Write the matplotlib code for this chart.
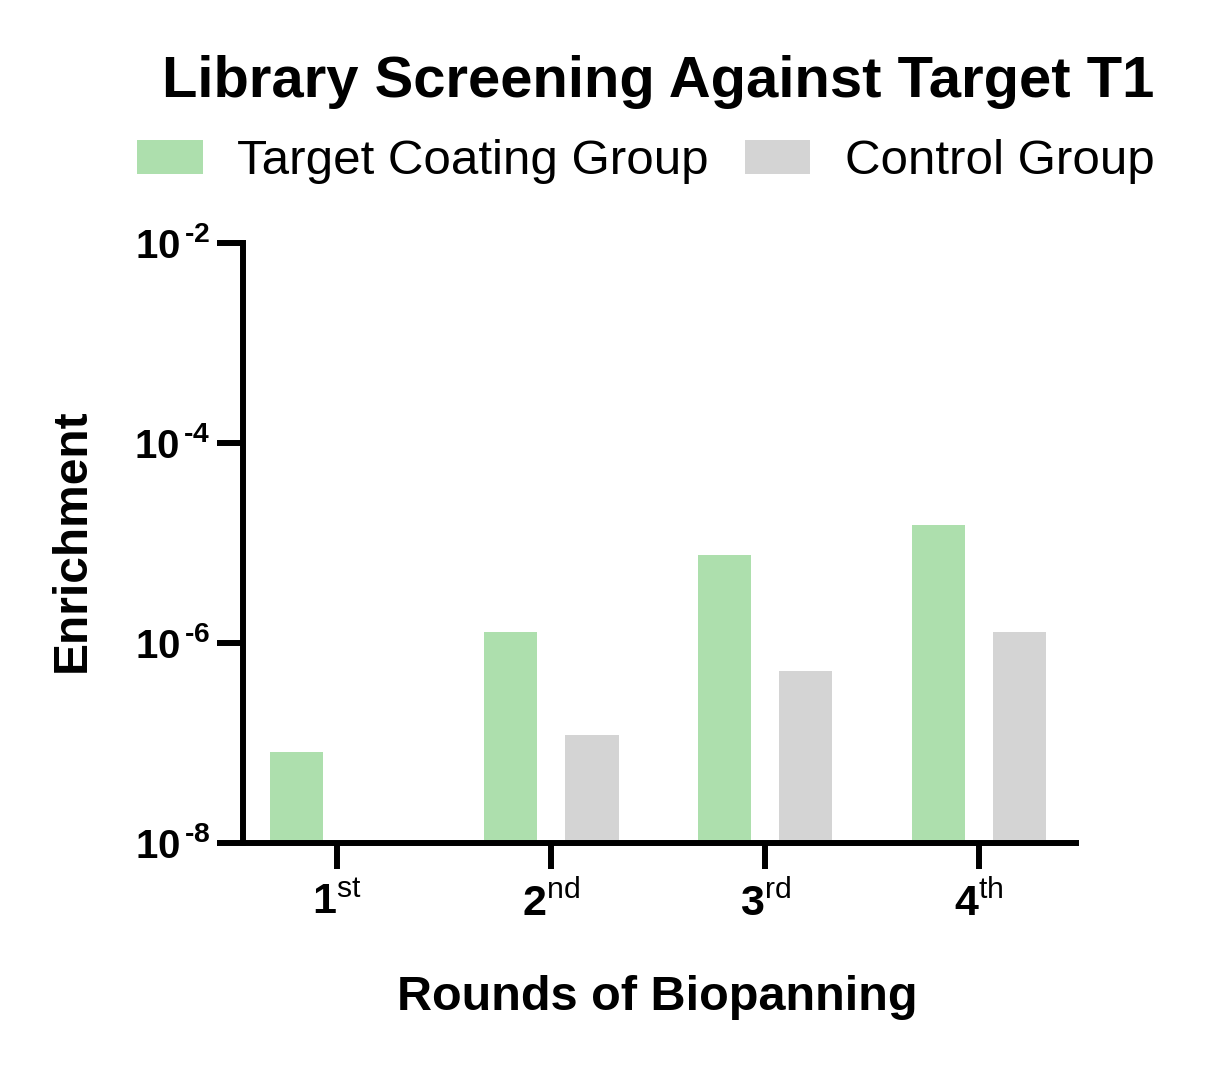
import numpy as np
import matplotlib
matplotlib.use("Agg")
import matplotlib.pyplot as plt

# 字体设置
plt.rcParams['font.family'] = ['Liberation Sans', 'DejaVu Sans']
plt.rcParams['mathtext.fontset'] = 'custom'
plt.rcParams['mathtext.rm'] = 'Liberation Sans'
plt.rcParams['mathtext.bf'] = 'Liberation Sans:bold'
plt.rcParams['mathtext.it'] = 'Liberation Sans:italic'

# 数据
rounds = ["1", "2", "3", "4"]
suffixes = ["st", "nd", "rd", "th"]
target_coating = [8.1e-8, 1.3e-6, 7.6e-6, 1.5e-5]
control = [0, 1.2e-7, 5.2e-7, 1.3e-6]
ytick_exps = [-8, -6, -4, -2]

green = '#addfad'
grey = '#d4d4d4'

fig = plt.figure(figsize=(12.18, 10.67), dpi=100)
ax = fig.add_axes([243 / 1218, 1 - 843 / 1067, (1076 - 243) / 1218, 600 / 1067])

x = np.arange(len(rounds))
w = 0.25
off = 0.19
ax.bar(x - off, target_coating, w, color=green, label="Target Coating Group")
ax.bar(x + off, control, w, color=grey, label="Control Group")

ax.set_yscale('log')
ax.set_ylim(1e-8, 1e-2)
ax.set_xlim(-0.44, 3.453)
ax.set_yticks([10.0 ** e for e in ytick_exps])
# 用连字符代替数学减号, 和原图一致
hyph = "\u2010"
ax.set_yticklabels([r"$\mathbf{10}^{\,\mathbf{" + hyph + str(abs(e)) + "}}$" for e in ytick_exps])
ax.yaxis.set_minor_locator(matplotlib.ticker.NullLocator())
ax.set_xticks(x)
ax.set_xticklabels([r"$\mathbf{%s}^{\mathrm{%s}}$" % (r, s) for r, s in zip(rounds, suffixes)])

for s in ['top', 'right']:
    ax.spines[s].set_visible(False)
for s in ['left', 'bottom']:
    ax.spines[s].set_linewidth(4.3)
ax.tick_params(axis='both', width=4.3, length=18.5, direction='out')
ax.tick_params(axis='y', labelsize=29, pad=5)
ax.tick_params(axis='x', labelsize=31, pad=10)

fig.text(72 / 1218, 1 - 540 / 1067, "Enrichment", rotation=90, fontsize=34.5,
         fontweight='bold', ha='center', va='center')
fig.text(657 / 1218, 1 - 1010 / 1067, "Rounds of Biopanning", fontsize=35,
         fontweight='bold', ha='center', va='baseline')
fig.text(658 / 1218, 1 - 97 / 1067, "Library Screening Against Target T1", fontsize=41.8,
         fontweight='bold', ha='center', va='baseline')

fig.legend(loc='center', bbox_to_anchor=(646 / 1218, 1 - 162 / 1067), ncol=2,
           frameon=False, fontsize=35.5, handlelength=1.32, handleheight=0.67,
           handletextpad=0.7, columnspacing=0.74, borderpad=0, borderaxespad=0)

fig.savefig("out.png", dpi=100)
